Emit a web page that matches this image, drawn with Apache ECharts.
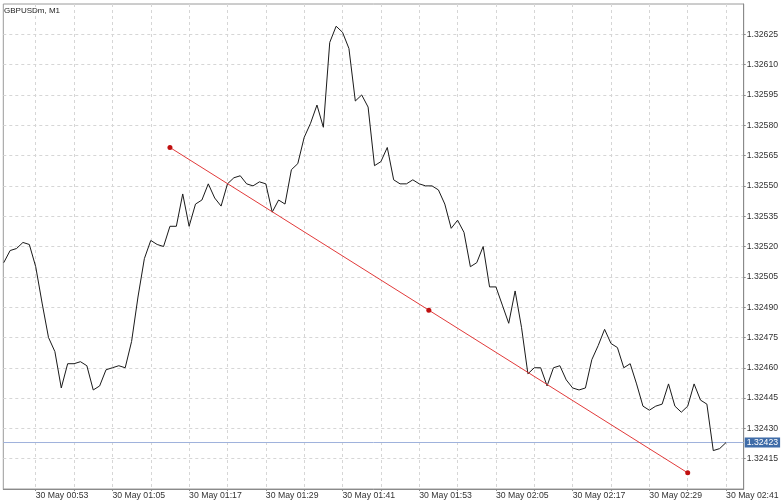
<!DOCTYPE html>
<html><head><meta charset="utf-8">
<script src="https://cdn.jsdelivr.net/npm/echarts@6/dist/echarts.min.js"></script>
<style>html,body{margin:0;padding:0;background:#fff}#c{width:782px;height:500px}</style>
</head><body><div id="c"></div><script>
const chartTitle = 'GBPUSDm, M1';
const dateLabel = '30 May';
const priceTimes = [
 '00:48','00:49','00:50','00:51','00:52','00:53','00:54','00:55','00:56','00:57','00:58','00:59',
 '01:00','01:01','01:02','01:03','01:04','01:05','01:06','01:07','01:08','01:09',
 '01:10','01:11','01:12','01:13','01:14','01:15','01:16','01:17','01:18','01:19',
 '01:20','01:21','01:22','01:23','01:24','01:25','01:26','01:27','01:28','01:29',
 '01:30','01:31','01:32','01:33','01:34','01:35','01:36','01:37','01:38','01:39',
 '01:40','01:41','01:42','01:43','01:44','01:45','01:46','01:47','01:48','01:49',
 '01:50','01:51','01:52','01:53','01:54','01:55','01:56','01:57','01:58','01:59',
 '02:00','02:01','02:02','02:03','02:04','02:05','02:06','02:07','02:08','02:09',
 '02:10','02:11','02:12','02:13','02:14','02:15','02:16','02:17','02:18','02:19',
 '02:20','02:21','02:22','02:23','02:24','02:25','02:26','02:27','02:28','02:29',
 '02:30','02:31','02:32','02:33','02:34','02:35','02:36','02:37','02:38','02:39',
 '02:40','02:41'
];
const priceValues = [
 1.32512,1.32518,1.32519,1.32522,1.32521,1.32510,1.32492,1.32475,1.32468,1.32450,
 1.32462,1.32462,1.32463,1.32461,1.32449,1.32451,1.32459,1.32460,1.32461,1.32460,
 1.32473,1.32495,1.32514,1.32523,1.32521,1.32520,1.32530,1.32530,1.32546,1.32530,
 1.32541,1.32543,1.32551,1.32544,1.32540,1.32551,1.32554,1.32555,1.32551,1.32550,
 1.32552,1.32551,1.32537,1.32543,1.32541,1.32558,1.32561,1.32574,1.32581,1.32590,
 1.32579,1.32621,1.32629,1.32626,1.32618,1.32592,1.32595,1.32589,1.32560,1.32562,
 1.32569,1.32553,1.32551,1.32551,1.32553,1.32551,1.32550,1.32550,1.32548,1.32541,
 1.32529,1.32533,1.32527,1.32510,1.32512,1.32520,1.32500,1.32500,1.32491,1.32482,
 1.32498,1.32480,1.32457,1.32460,1.32460,1.32451,1.32460,1.32461,1.32454,1.32450,
 1.32449,1.32450,1.32464,1.32471,1.32479,1.32472,1.32470,1.32460,1.32462,1.32452,
 1.32441,1.32439,1.32441,1.32442,1.32452,1.32441,1.32438,1.32441,1.32452,1.32444,
 1.32442,1.32419,1.32420,1.32423
];
const gridTimes = ['00:53','00:59','01:05','01:11','01:17','01:23','01:29','01:35','01:41','01:47',
 '01:53','01:59','02:05','02:11','02:17','02:23','02:29','02:35','02:41'];
const labelTimes = ['00:53','01:05','01:17','01:29','01:41','01:53','02:05','02:17','02:29','02:41'];
const yTicks = [1.32415,1.32430,1.32445,1.32460,1.32475,1.32490,1.32505,1.32520,1.32535,1.32550,
 1.32565,1.32580,1.32595,1.32610,1.32625];
const currentPrice = 1.32423;
const trendTimes = ['01:14:00','01:54:30','02:35:00'];
const trendValues = [1.32569, 1.324885, 1.32408];

function toMin(s){ const p = s.split(':').map(Number); return p[0]*60 + p[1] + (p[2]||0)/60; }
function fmtTime(m){ const r = Math.round(m); const h = Math.floor(r/60), mm = r%60;
  return String(h).padStart(2,'0') + ':' + String(mm).padStart(2,'0'); }

const xMin = 47.93, xMax = 163.76;
const priceData = priceTimes.map((t,i)=>[toMin(t), priceValues[i]]);
const trendData = trendTimes.map((t,i)=>[toMin(t), trendValues[i]]);
const gridMins = gridTimes.map(toMin);
const labelMins = labelTimes.map(toMin);

const font = 'Liberation Sans, Arial, sans-serif';
const chart = echarts.init(document.getElementById('c'), null, {renderer:'canvas'});
chart.setOption({
  animation: false,
  backgroundColor: '#fff',
  title: { text: chartTitle, left: 4, top: 7, padding: 0,
    textStyle: { fontSize: 8, fontWeight: 'normal', color: '#222', fontFamily: font } },
  grid: { left: 3.3, right: 38.3, top: 4, bottom: 11, show: true,
    borderColor: '#9a9a9a', borderWidth: 1, outerBoundsMode: 'none' },
  xAxis: {
    type: 'value', min: xMin, max: xMax, position: 'bottom',
    axisLine: { show: true, onZero: false, lineStyle: { color: '#8a8a8a' } },
    axisTick: { show: true, length: 2, customValues: gridMins, lineStyle: { color: '#8a8a8a' } },
    splitLine: { show: true, lineStyle: { color: '#d6d6d6', type: [3,3], width: 1 } },
    axisLabel: { customValues: labelMins, align: 'left', margin: 2, padding: 0,
      fontSize: 8.7, color: '#333', fontFamily: font,
      formatter: v => dateLabel + ' ' + fmtTime(v) }
  },
  yAxis: {
    type: 'value', position: 'right', min: 1.32400, max: 1.32640, scale: true,
    axisLine: { show: true, lineStyle: { color: '#8a8a8a' } },
    axisTick: { show: true, length: 2, customValues: yTicks, lineStyle: { color: '#8a8a8a' } },
    splitLine: { show: true, lineStyle: { color: '#d6d6d6', type: [3,3], width: 1 } },
    axisLabel: { customValues: yTicks, margin: 3, fontSize: 8.7, color: '#333', fontFamily: font,
      formatter: v => v.toFixed(5) }
  },
  series: [
    { name: 'current', type: 'line', data: [[xMin, currentPrice], [xMax, currentPrice]],
      symbol: 'none', showSymbol: false, silent: true, z: 2,
      lineStyle: { color: '#9fb2dc', width: 1 },
      endLabel: { show: true, distance: 1, formatter: currentPrice.toFixed(5),
        backgroundColor: '#3f6ca8', color: '#fff', fontSize: 8.7, fontFamily: font,
        padding: [1,2,0,2] } },
    { name: 'GBPUSDm', type: 'line', data: priceData, showSymbol: false, symbol: 'none',
      lineStyle: { color: '#1a1a1a', width: 1 }, z: 3 },
    { name: 'trend', type: 'line', data: trendData, symbol: 'circle', symbolSize: 5,
      showSymbol: true, itemStyle: { color: '#c01010' },
      lineStyle: { color: '#e23a3a', width: 1 }, z: 4 }
  ]
});
</script></body></html>
